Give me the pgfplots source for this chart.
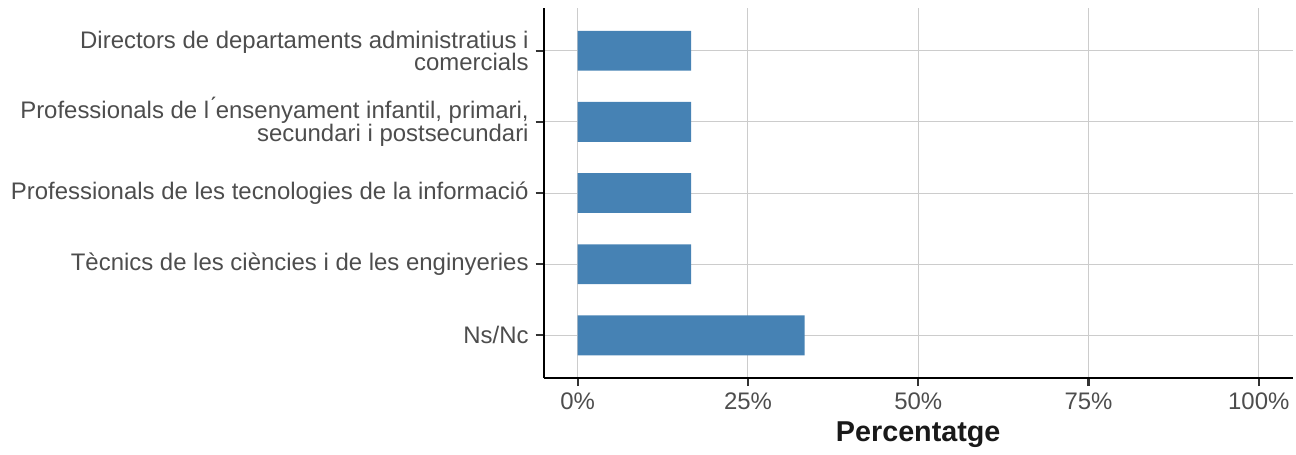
\documentclass[border=0pt]{standalone}
\usepackage{fontspec}
\setmainfont{Liberation Sans}
\usepackage{pgfplots}
\pgfplotsset{compat=1.18}
\definecolor{barblue}{HTML}{4682B4}
\definecolor{ticktxt}{HTML}{4D4D4D}
\definecolor{gridc}{HTML}{CCCCCC}
\begin{document}
\begin{tikzpicture}
\begin{axis}[
  scale only axis,
  width=375.5pt, height=185.5pt,
  xmin=-5, xmax=105, ymin=0.4, ymax=5.6,
  xbar, bar width=0.56, bar shift=0pt,
  axis x line*=bottom, axis y line*=left,
  axis line style={black, line width=1.1pt, -},
  xtick={0,25,50,75,100},
  xticklabels={0\%,25\%,50\%,75\%,100\%},
  ytick={1,2,3,4,5},
  yticklabels={Ns/Nc,
    T\`ecnics de les ci\`encies i de les enginyeries,
    Professionals de les tecnologies de la informaci\'o,
    {Professionals de l\'{}ensenyament infantil, primari,\\secundari i postsecundari},
    {Directors de departaments administratius i\\comercials}},
  yticklabel style={align=right, font=\fontsize{12pt}{11.2pt}\selectfont, text=ticktxt},
  xticklabel style={font=\fontsize{12pt}{13pt}\selectfont, text=ticktxt},
  tick align=outside,
  major tick length=4pt,
  tick style={black!80, line width=1.1pt},
  xmajorgrids, ymajorgrids,
  major grid style={gridc, line width=0.5pt},
  xlabel={\textbf{Percentatge}},
  xlabel style={font=\fontsize{14.4pt}{16pt}\selectfont, text=black!90, yshift=1pt},
  /pgf/number format/assume math mode=true,
  clip=false,
]
\addplot[fill=barblue, draw=none] coordinates {
  (33.33,1) (16.67,2) (16.67,3) (16.67,4) (16.67,5)
};
\end{axis}
\useasboundingbox (current axis.south west) ++(-272.5pt,-34pt) rectangle ([yshift=4pt]current axis.north east);
\end{tikzpicture}
\end{document}
